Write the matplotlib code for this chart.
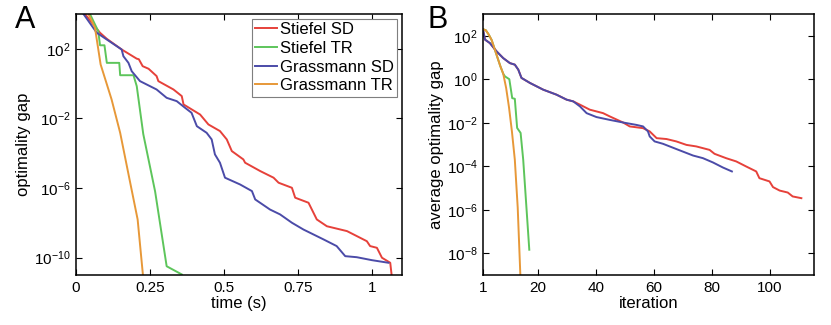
import numpy as np
import matplotlib
matplotlib.use("Agg")
import matplotlib.pyplot as plt
from matplotlib.ticker import NullLocator

plt.rcParams['font.family'] = ['Liberation Sans', 'DejaVu Sans']
plt.rcParams['mathtext.fontset'] = 'custom'
plt.rcParams['mathtext.rm'] = 'Liberation Sans'
plt.rcParams['mathtext.it'] = 'Liberation Sans:italic'
plt.rcParams['font.size'] = 11

# colours of the four solvers
C_RED = '#E6413A'
C_GREEN = '#5DC55B'
C_BLUE = '#4B4BA8'
C_ORANGE = '#E79838'

labels = ['Stiefel SD', 'Stiefel TR', 'Grassmann SD', 'Grassmann TR']

# ---- panel A: optimality gap vs time (log10 of gap) ----
a_stiefel_sd_t = [0.03, 0.081, 0.104, 0.154, 0.205, 0.212, 0.225, 0.245, 0.272, 0.278,
                  0.329, 0.357, 0.363, 0.419, 0.447, 0.486, 0.509, 0.526, 0.565, 0.571,
                  0.622, 0.667, 0.684, 0.729, 0.740, 0.785, 0.813, 0.847, 0.915, 0.982,
                  0.993, 1.016, 1.033, 1.061, 1.067]
a_stiefel_sd_log = [4.0, 2.92, 2.57, 1.96, 1.43, 1.40, 1.0, 0.85, 0.43, 0.14,
                    -0.34, -0.72, -1.2, -1.78, -2.35, -2.73, -3.21, -3.88, -4.36, -4.55,
                    -5.03, -5.41, -5.7, -5.99, -6.56, -6.85, -7.81, -8.2, -8.48, -9.06,
                    -9.34, -9.44, -10.01, -10.3, -11.2]

a_stiefel_tr_t = [0.047, 0.075, 0.081, 0.096, 0.104, 0.146, 0.149, 0.194, 0.205, 0.227,
                  0.267, 0.306, 0.357]
a_stiefel_tr_log = [4.0, 3.01, 2.2, 2.2, 1.19, 1.19, 0.48, 0.48, -0.15, -2.9,
                    -6.2, -10.5, -10.97]

a_grass_sd_t = [0.025, 0.07, 0.104, 0.154, 0.16, 0.177, 0.188, 0.216, 0.272, 0.306,
                0.34, 0.368, 0.39, 0.408, 0.441, 0.458, 0.469, 0.486, 0.503, 0.554,
                0.594, 0.605, 0.655, 0.689, 0.729, 0.768, 0.836, 0.88, 0.909, 0.948,
                0.999, 1.055]
a_grass_sd_log = [4.0, 2.92, 2.53, 1.96, 1.57, 1.19, 0.71, 0.14, -0.34, -0.82,
                  -1.01, -1.39, -1.68, -2.45, -2.83, -3.21, -4.07, -4.55, -5.41, -5.8,
                  -6.18, -6.66, -7.24, -7.52, -8.0, -8.39, -8.96, -9.34, -9.92, -9.98,
                  -10.15, -10.3]

a_grass_tr_t = [0.042, 0.064, 0.083, 0.12, 0.149, 0.177, 0.208, 0.227]
a_grass_tr_log = [4.0, 3.2, 1.1, -0.91, -2.83, -5.2, -7.81, -11.2]

# ---- panel B: average optimality gap vs iteration (log10 of gap) ----
b_grass_sd_it = [1, 1.7, 3.4, 5.7, 8, 10.3, 12, 13.2, 14.3, 17.2, 21.8, 26.4, 29.9, 32.2,
                 34.5, 36.8, 40.2, 44.8, 49.4, 54, 56.3, 58, 58.6, 60.3, 63.2, 67.8,
                 73.6, 77, 80.5, 83.9, 87]
b_grass_sd_log = [2.28, 1.82, 1.66, 1.28, 0.97, 0.74, 0.67, 0.44, 0.06, -0.17, -0.48,
                  -0.71, -0.94, -1.02, -1.25, -1.56, -1.74, -1.87, -1.99, -2.1, -2.17,
                  -2.4, -2.63, -2.86, -2.97, -3.21, -3.51, -3.63, -3.83, -4.06, -4.24]

b_stiefel_sd_it = [1, 1.7, 3.4, 5.7, 8, 10.3, 12, 13.2, 14.3, 17.2, 21.8, 26.4, 29.9, 32.2,
                   34.5, 37.9, 42.5, 44.8, 49.4, 51.7, 56.3, 58.6, 61, 64.4, 67.8, 71.3,
                   74.7, 79.3, 81, 85, 88.5, 91.9, 95.4, 96.5, 100, 101.2, 103.5, 106.3,
                   108, 111]
b_stiefel_sd_log = [2.28, 1.82, 1.66, 1.28, 0.97, 0.74, 0.67, 0.44, 0.06, -0.17, -0.48,
                    -0.71, -0.94, -1.02, -1.17, -1.4, -1.56, -1.71, -1.99, -2.17, -2.25,
                    -2.4, -2.71, -2.75, -2.86, -3.02, -3.09, -3.25, -3.43, -3.63, -3.78,
                    -4.01, -4.24, -4.55, -4.7, -4.96, -5.12, -5.21, -5.39, -5.47]

b_stiefel_tr_it = [1, 2, 3, 4, 5, 6, 7, 8, 8.6, 10.1, 11.1, 12, 12.8, 14, 14.9, 17]
b_stiefel_tr_log = [2.3, 2.25, 2.05, 1.8, 1.4, 1.0, 0.6, 0.25, 0.13, 0.0, -0.87, -0.9,
                    -2.24, -2.47, -3.7, -7.84]

b_grass_tr_it = [1, 2, 3, 4, 5, 6, 7, 8, 9, 10, 11, 12, 13, 14]
b_grass_tr_log = [2.3, 2.25, 2.05, 1.8, 1.4, 1.0, 0.6, 0.25, -0.4, -1.3, -2.4, -3.7,
                  -5.9, -9.3]


def style_axes(ax):
    # matlab look: box on, ticks inside on all four sides
    ax.tick_params(which='both', direction='in', top=True, right=True,
                   length=4, width=0.8, labelsize=11, pad=4)
    for s in ax.spines.values():
        s.set_linewidth(1.1)
    ax.yaxis.set_minor_locator(NullLocator())
    ax.xaxis.set_minor_locator(NullLocator())


fig = plt.figure(figsize=(8.31, 3.25), dpi=100)
axA = fig.add_axes([0.0915, 0.154, 0.392, 0.803])
axB = fig.add_axes([0.5812, 0.154, 0.3988, 0.803])

lw = 1.4
axA.semilogy(a_stiefel_sd_t, 10.0 ** np.array(a_stiefel_sd_log), color=C_RED, lw=lw, label=labels[0])
axA.semilogy(a_stiefel_tr_t, 10.0 ** np.array(a_stiefel_tr_log), color=C_GREEN, lw=lw, label=labels[1])
axA.semilogy(a_grass_sd_t, 10.0 ** np.array(a_grass_sd_log), color=C_BLUE, lw=lw, label=labels[2])
axA.semilogy(a_grass_tr_t, 10.0 ** np.array(a_grass_tr_log), color=C_ORANGE, lw=lw, label=labels[3])
axA.set_xlim(0, 1.1)
axA.set_ylim(1e-11, 1e4)
axA.set_xticks([0, 0.25, 0.5, 0.75, 1])
axA.set_xticklabels(['0', '0.25', '0.5', '0.75', '1'])
axA.set_yticks([1e2, 1e-2, 1e-6, 1e-10])
style_axes(axA)
axA.set_xlabel('time (s)', fontsize=12, labelpad=1)
axA.set_ylabel('optimality gap', fontsize=12, labelpad=2)
leg = axA.legend(loc='upper right', fontsize=12, frameon=True, fancybox=False,
                 framealpha=1, edgecolor='#7f7f7f', handlelength=1.3,
                 handletextpad=0.15, labelspacing=0.22, borderaxespad=0.3,
                 borderpad=0.2)
leg.get_frame().set_linewidth(0.8)

axB.semilogy(b_stiefel_sd_it, 10.0 ** np.array(b_stiefel_sd_log), color=C_RED, lw=lw)
axB.semilogy(b_stiefel_tr_it, 10.0 ** np.array(b_stiefel_tr_log), color=C_GREEN, lw=lw)
axB.semilogy(b_grass_sd_it, 10.0 ** np.array(b_grass_sd_log), color=C_BLUE, lw=lw)
axB.semilogy(b_grass_tr_it, 10.0 ** np.array(b_grass_tr_log), color=C_ORANGE, lw=lw)
axB.set_xlim(1, 115.5)
axB.set_ylim(1e-9, 1e3)
axB.set_xticks([1, 20, 40, 60, 80, 100])
axB.set_yticks([1e2, 1e0, 1e-2, 1e-4, 1e-6, 1e-8])
style_axes(axB)
axB.set_xlabel('iteration', fontsize=12, labelpad=1)
axB.set_ylabel('average optimality gap', fontsize=12, labelpad=2)

# panel letters
fig.text(0.018, 0.985, 'A', fontsize=22, va='top', ha='left')
fig.text(0.515, 0.985, 'B', fontsize=22, va='top', ha='left')

fig.savefig('out.png', dpi=100)
